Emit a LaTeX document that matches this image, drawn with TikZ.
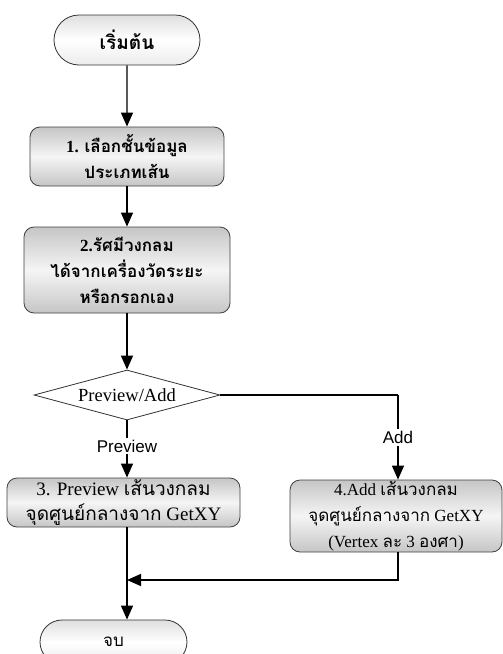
\documentclass[tikz,border=0pt]{standalone}
\usepackage{fontspec}
\setmainfont{Liberation Serif}
\newfontfamily\labelfont{Liberation Sans}
\newfontfamily\thaifont[Script=Thai]{Loma}
\newcommand{\tf}[1]{{\thaifont #1}}
\usetikzlibrary{arrows.meta,shapes.geometric,shapes.misc}

\tikzset{
  flow/.style={line width=1.3pt, draw=black},
  tip/.style={-{Triangle[length=14pt,width=12pt]}},
  terminal/.style={rounded rectangle, draw=black!80, line width=0.8pt,
    top color=gray!25, bottom color=gray!15, middle color=white,
    inner sep=0pt, align=center, font=\fontsize{19}{22}\selectfont},
  stepbox/.style={rectangle, rounded corners=10pt, draw=black!75, line width=0.8pt,
    top color=gray!45, bottom color=gray!45, middle color=gray!8,
    inner sep=0pt, align=center, font=\fontsize{17}{26}\selectfont},
  decision/.style={diamond, draw=black!80, line width=0.8pt, fill=white,
    aspect=3.7, inner sep=0pt, font=\fontsize{18.5}{22}\selectfont},
  branchlabel/.style={fill=white, inner sep=2pt, font=\labelfont\fontsize{17}{20}\selectfont}
}

\begin{document}
\begin{tikzpicture}[x=1pt,y=-1pt]
\useasboundingbox (0,0) rectangle (503,654);

\node[terminal, minimum width=146pt, minimum height=50pt] (start) at (127,40)
  {\tf{\bfseries เริ่มต้น}};

\node[stepbox, minimum width=194pt, minimum height=59pt] (s1) at (127,156.5)
  {\bfseries 1. \tf{\bfseries เลือกชั้นข้อมูล}\\ \tf{\bfseries ประเภทเส้น}};

\node[stepbox, minimum width=206pt, minimum height=86pt] (s2) at (127,270)
  {\bfseries 2.\tf{\bfseries รัศมีวงกลม}\\ \tf{\bfseries ได้จากเครื่องวัดระยะ}\\ \tf{\bfseries หรือกรอกเอง}};

\node[decision, minimum width=186pt, minimum height=50pt] (dec) at (127,395)
  {Preview/Add};

\node[stepbox, minimum width=233pt, minimum height=49pt,
      font=\fontsize{19}{25}\selectfont] (s3) at (123.5,502.5)
  {3. Preview \tf{เส้นวงกลม}\\ \tf{จุดศูนย์กลางจาก} GetXY};

\node[stepbox, minimum width=212pt, minimum height=72pt] (s4) at (396,516)
  {4.Add \tf{เส้นวงกลม}\\ \tf{จุดศูนย์กลางจาก} GetXY\\ (Vertex \tf{ละ} 3 \tf{องศา})};

\node[terminal, minimum width=147pt, minimum height=44pt,
      font=\fontsize{17}{20}\selectfont] (stop) at (113.5,642)
  {\tf{จบ}};

% routing points
\coordinate (turn) at (398,395);
\coordinate (join) at (127,580);

\draw[flow, tip] (start) -- (s1);
\draw[flow, tip] (s1) -- (s2);
\draw[flow, tip] (s2) -- (dec);
\draw[flow, tip] (dec.south) -- node[branchlabel, pos=0.45] {Preview} (s3.north -| dec.south);
\draw[flow] (dec.east) -- (turn);
\draw[flow, tip] (turn) -- node[branchlabel, pos=0.5] {Add} (s4.north -| turn);
\draw[flow] (s3.south -| join) -- (join);
\draw[flow, tip] (s4.south -| turn) -- (join -| turn) -- (join);
\draw[flow, tip] (join) -- (stop.north -| join);
\end{tikzpicture}
\end{document}
